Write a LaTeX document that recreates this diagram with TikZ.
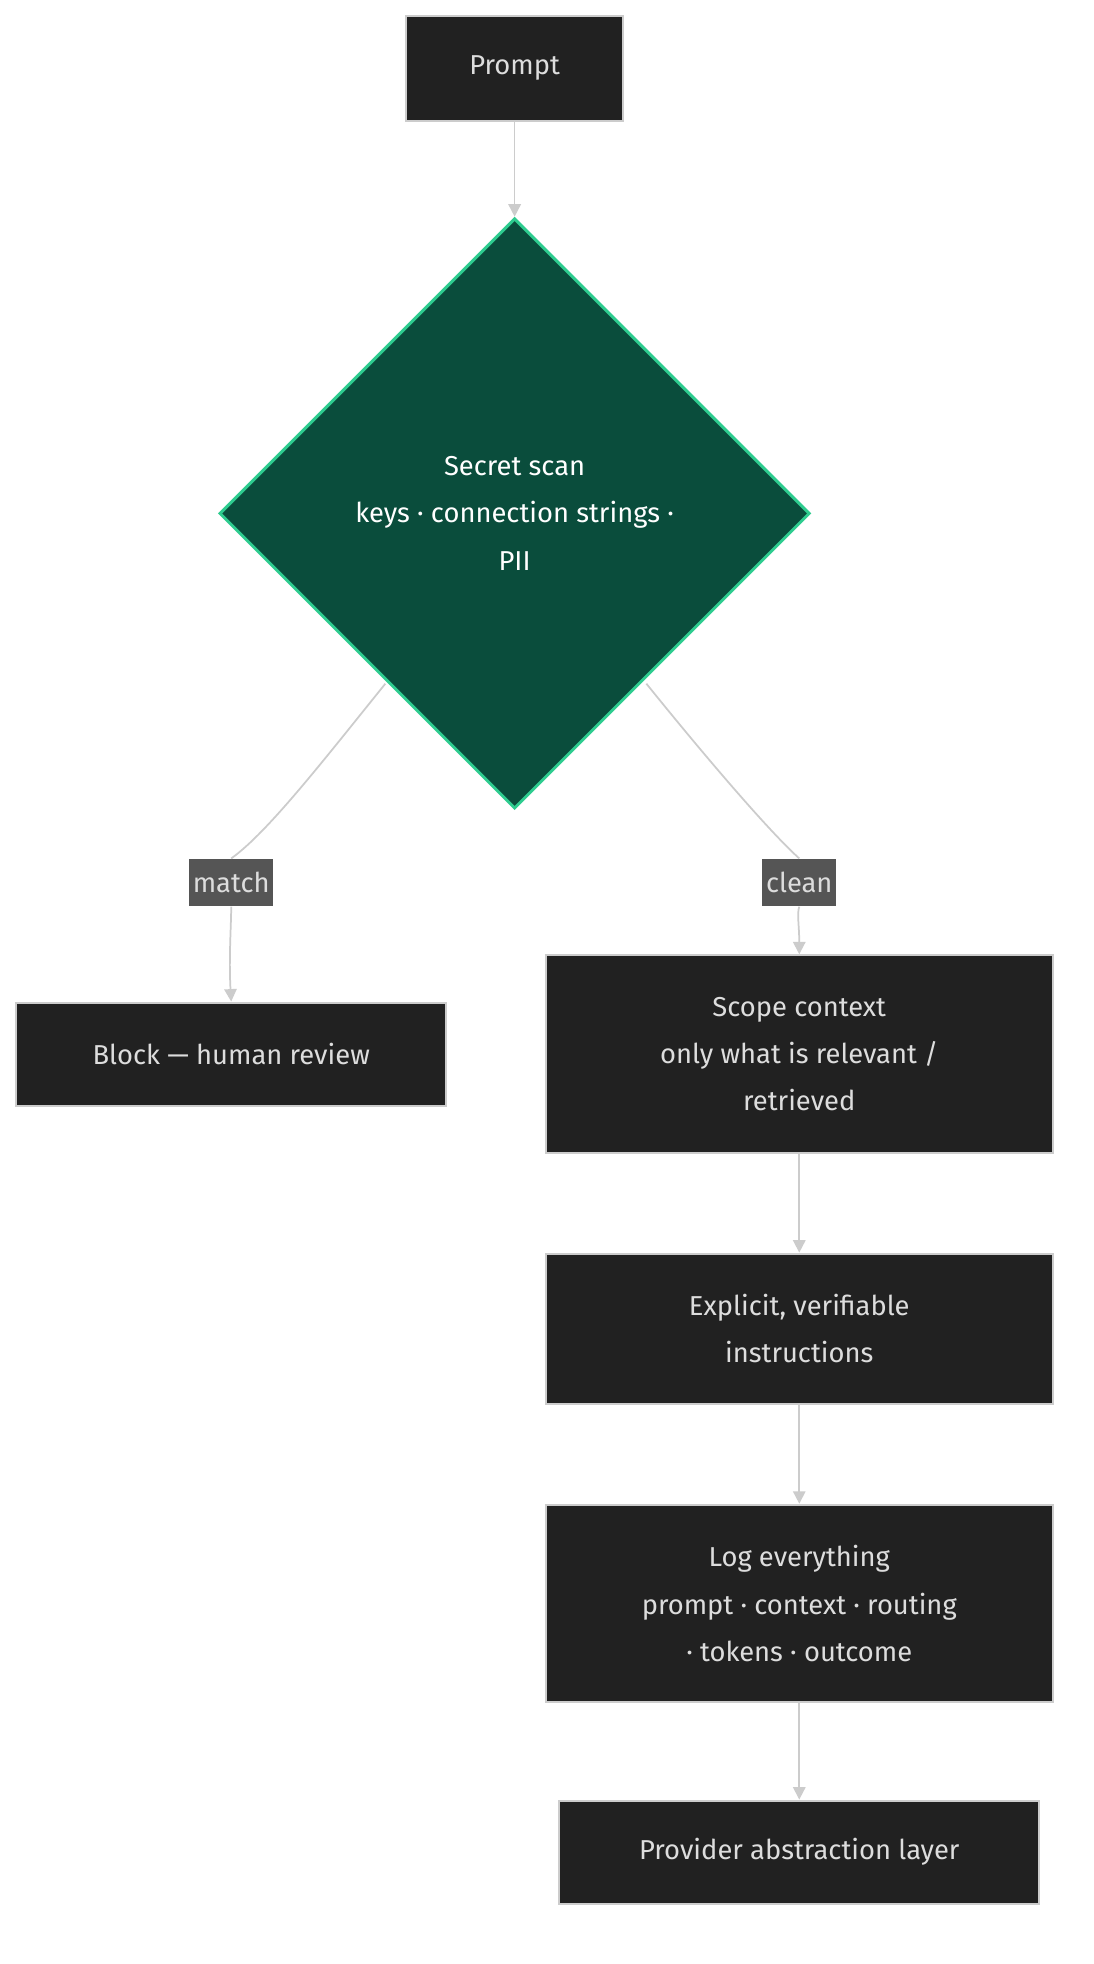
\documentclass[tikz,border=0pt]{standalone}
\usepackage{fontspec}
\setmainfont{Fira Sans}
\usetikzlibrary{shapes.geometric,arrows.meta}
\definecolor{boxfill}{HTML}{212121}
\definecolor{boxline}{HTML}{CCCCCC}
\definecolor{txt}{HTML}{DDDDDD}
\definecolor{dfill}{HTML}{0A4D3C}
\definecolor{dline}{HTML}{2ECC8F}
\definecolor{lab}{HTML}{555555}
\begin{document}
\begin{tikzpicture}[x=0.5pt,y=-0.5pt,
 box/.style={draw=boxline,fill=boxfill,text=txt,line width=0.8pt,font=\fontsize{11}{19}\selectfont,align=center,inner sep=0pt},
 lbl/.style={fill=lab,text=txt,font=\fontsize{11}{13}\selectfont,inner sep=1.5pt,minimum height=19pt},
 arr/.style={draw=boxline,line width=0.7pt,-{Triangle[length=5pt,width=5pt]}}]
\fill[white] (0,0) rectangle (880,1580);
\useasboundingbox (0,0) rectangle (880,1580);
\node[box,minimum width=87.5pt,minimum height=42pt] (p) at (414,55) {Prompt};
\node[draw=dline,fill=dfill,text=white,line width=1.2pt,diamond,minimum width=237.5pt,minimum height=237.5pt,inner sep=0pt,align=center,font=\fontsize{11}{19}\selectfont] (d) at (414,413) {Secret scan\\keys · connection strings ·\\PII};
\node[lbl] (m) at (186,710) {match};
\node[lbl] (c) at (643,710) {clean};
\node[box,minimum width=173pt,minimum height=41.5pt] (b) at (186,848) {Block — human review};
\node[box,minimum width=204pt,minimum height=79.5pt] (s) at (643,848) {Scope context\\only what is relevant /\\retrieved};
\node[box,minimum width=204pt,minimum height=60.5pt] (e) at (643,1069) {Explicit, verifiable\\instructions};
\node[box,minimum width=204pt,minimum height=79.5pt] (l) at (643,1290) {Log everything\\prompt · context · routing\\· tokens · outcome};
\node[box,minimum width=193pt,minimum height=41.5pt] (v) at (643,1490) {Provider abstraction layer};
\coordinate (dl) at (310,550);
\coordinate (dr) at (520,550);
\draw[arr] (p) -- (d.north);
\draw[draw=boxline,line width=0.7pt] (dl) .. controls (260,612) and (215,670) .. (m.north);
\draw[arr] (m.south) .. controls (186,745) and (184,770) .. (b.north);
\draw[draw=boxline,line width=0.7pt] (dr) .. controls (570,612) and (620,670) .. (c.north);
\draw[arr] (c.south) .. controls (641,735) and (643,745) .. (s.north);
\draw[arr] (s) -- (e);
\draw[arr] (e) -- (l);
\draw[arr] (l) -- (v);
\end{tikzpicture}
\end{document}
